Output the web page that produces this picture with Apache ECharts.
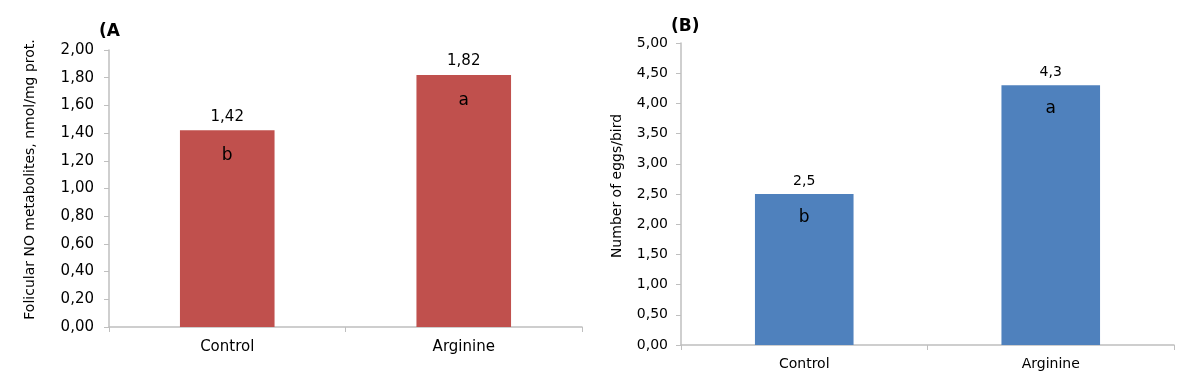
<!DOCTYPE html>
<html>
<head>
<meta charset="utf-8">
<script src="https://cdn.jsdelivr.net/npm/echarts@6/dist/echarts.min.js"></script>
<style>html,body{margin:0;padding:0;background:#fff}#c{width:1200px;height:387px}</style>
</head>
<body>
<div id="c"></div>
<script>
const categories = ['Control', 'Arginine'];
const valuesA = [1.42, 1.82];
const lettersA = ['b', 'a'];
const valuesB = [2.5, 4.3];
const valueLabelsB = ['2,5', '4,3'];
const lettersB = ['b', 'a'];
const titleA = '(A';
const titleB = '(B)';
const yNameA = 'Folicular NO metabolites, nmol/mg prot.';
const yNameB = 'Number of eggs/bird';

const font = 'DejaVu Sans, Verdana, sans-serif';
const axisCol = '#bfbfbf';
const fmt2 = v => v.toFixed(2).replace('.', ',');

const chart = echarts.init(document.getElementById('c'));
chart.setOption({
  animation: false,
  textStyle: { fontFamily: font },
  title: [
    { text: titleA, left: 94, top: 18, textStyle: { fontFamily: font, fontSize: 17, fontWeight: 'bold', color: '#000' } },
    { text: titleB, left: 666, top: 13, textStyle: { fontFamily: font, fontSize: 17, fontWeight: 'bold', color: '#000' } }
  ],
  grid: [
    { left: 109, right: 618, top: 50, bottom: 60 },
    { left: 681, right: 26, top: 43, bottom: 42 }
  ],
  xAxis: [
    { type: 'category', gridIndex: 0, data: categories,
      axisLine: { lineStyle: { color: axisCol, width: 1.5 } },
      axisTick: { show: true, alignWithLabel: false, length: 5, lineStyle: { color: axisCol } },
      axisLabel: { color: '#000', fontSize: 15, margin: 13, fontFamily: font } },
    { type: 'category', gridIndex: 1, data: categories,
      axisLine: { lineStyle: { color: axisCol, width: 1.5 } },
      axisTick: { show: true, alignWithLabel: false, length: 5, lineStyle: { color: axisCol } },
      axisLabel: { color: '#000', fontSize: 14, margin: 12, fontFamily: font } }
  ],
  yAxis: [
    { type: 'value', gridIndex: 0, min: 0, max: 2, interval: 0.2,
      name: yNameA, nameLocation: 'middle', nameGap: 72,
      nameTextStyle: { color: '#000', fontSize: 14, fontFamily: font, padding: [0, 0, 0, 18] },
      axisLine: { show: true, lineStyle: { color: axisCol, width: 1.5 } },
      axisTick: { show: true, length: 5, lineStyle: { color: axisCol } },
      splitLine: { show: false },
      axisLabel: { color: '#000', fontSize: 15, margin: 15, formatter: fmt2, fontFamily: font } },
    { type: 'value', gridIndex: 1, min: 0, max: 5, interval: 0.5,
      name: yNameB, nameLocation: 'middle', nameGap: 57,
      nameTextStyle: { color: '#000', fontSize: 14, fontFamily: font, padding: [0, 0, 0, 16] },
      axisLine: { show: true, lineStyle: { color: axisCol, width: 1.5 } },
      axisTick: { show: true, length: 5, lineStyle: { color: axisCol } },
      splitLine: { show: false },
      axisLabel: { color: '#000', fontSize: 14, margin: 13, formatter: fmt2, fontFamily: font } }
  ],
  series: [
    { type: 'bar', xAxisIndex: 0, yAxisIndex: 0, data: valuesA, barWidth: '40%',
      itemStyle: { color: '#c0504d' },
      label: { show: true, position: 'top', distance: 6, color: '#000', fontSize: 15, fontFamily: font,
        formatter: p => fmt2(p.value) } },
    { type: 'bar', xAxisIndex: 0, yAxisIndex: 0, data: valuesA, barWidth: '40%', barGap: '-100%',
      itemStyle: { color: 'rgba(0,0,0,0)' }, silent: true,
      label: { show: true, position: 'insideTop', distance: 17, color: '#000', fontSize: 17, fontFamily: font,
        formatter: p => lettersA[p.dataIndex] } },
    { type: 'bar', xAxisIndex: 1, yAxisIndex: 1, data: valuesB, barWidth: '40%',
      itemStyle: { color: '#4f81bd' },
      label: { show: true, position: 'top', distance: 6, color: '#000', fontSize: 14, fontFamily: font,
        formatter: p => valueLabelsB[p.dataIndex] } },
    { type: 'bar', xAxisIndex: 1, yAxisIndex: 1, data: valuesB, barWidth: '40%', barGap: '-100%',
      itemStyle: { color: 'rgba(0,0,0,0)' }, silent: true,
      label: { show: true, position: 'insideTop', distance: 15, color: '#000', fontSize: 17, fontFamily: font,
        formatter: p => lettersB[p.dataIndex] } }
  ]
});
</script>
</body>
</html>
